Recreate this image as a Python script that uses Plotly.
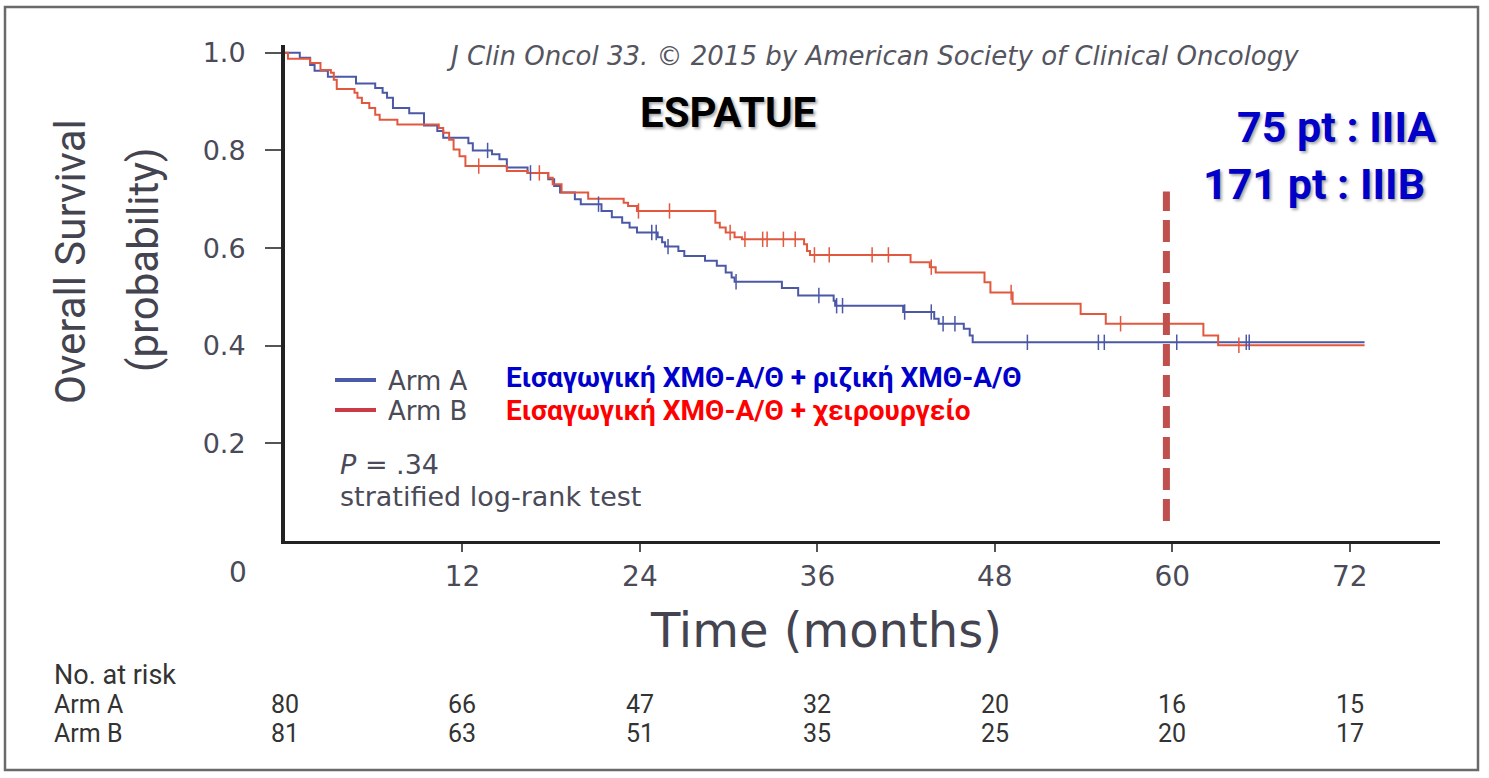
import plotly.graph_objects as go
import numpy as np

# ---------------- data ----------------
# Kaplan-Meier step points (months, survival)
t_A = [0, 1.0, 1.7, 2.0, 2.9, 4.8, 6.1, 6.6, 6.9, 7.3, 8.4, 9.4, 10.3, 10.7, 12.4,
       12.7, 14.0, 14.5, 15.0, 16.4, 17.8, 18.2, 18.6, 19.6, 20.0, 21.4, 22.1, 22.8,
       23.3, 23.8, 25.2, 25.5, 25.7, 26.6, 27.0, 28.4, 29.2, 29.8, 30.2, 30.4, 33.6,
       34.7, 37.1, 37.2, 41.8, 43.9, 44.2, 45.9, 46.3, 46.5, 73.0]
s_A = [1.0, 0.99, 0.975, 0.963, 0.951, 0.937, 0.928, 0.918, 0.908, 0.887, 0.876, 0.851,
       0.84, 0.826, 0.815, 0.80, 0.792, 0.782, 0.765, 0.754, 0.741, 0.727, 0.714, 0.70,
       0.69, 0.676, 0.663, 0.652, 0.642, 0.632, 0.622, 0.612, 0.603, 0.594, 0.584,
       0.574, 0.564, 0.550, 0.540, 0.531, 0.518, 0.503, 0.492, 0.482, 0.469, 0.455,
       0.445, 0.435, 0.421, 0.407, 0.407]

t_B = [0, 0.2, 1.7, 2.4, 3.1, 3.3, 3.5, 4.7, 4.9, 5.2, 5.7, 6.1, 6.4, 7.6, 10.4, 10.7,
       11.1, 11.4, 11.8, 12.2, 15.0, 16.4, 17.8, 18.1, 18.7, 20.5, 22.9, 23.2, 23.8,
       29.1, 29.4, 29.8, 30.4, 30.9, 35.1, 35.3, 35.5, 42.3, 43.6, 44.0, 47.3, 47.7,
       49.2, 53.8, 55.5, 62.1, 63.1, 73.0]
s_B = [1.0, 0.988, 0.979, 0.965, 0.959, 0.945, 0.926, 0.918, 0.908, 0.897, 0.887, 0.873,
       0.863, 0.853, 0.846, 0.836, 0.822, 0.802, 0.788, 0.768, 0.758, 0.754, 0.744,
       0.731, 0.714, 0.701, 0.693, 0.686, 0.676, 0.652, 0.642, 0.632, 0.622, 0.618,
       0.608, 0.594, 0.586, 0.571, 0.561, 0.550, 0.530, 0.509, 0.486, 0.465, 0.445,
       0.421, 0.401, 0.401]

# censoring times
cens_A = [13.7, 16.6, 21.2, 24.8, 25.1, 25.9, 30.5, 36.1, 37.3, 37.7, 41.9, 43.7, 44.5,
          45.3, 50.2, 55.0, 55.4, 60.3, 65.0, 65.2]
cens_B = [13.1, 17.2, 23.9, 26.0, 30.1, 31.1, 32.3, 32.6, 33.7, 34.5, 35.8, 36.8, 39.7,
          40.8, 43.7, 49.1, 56.5, 64.5]

# number at risk
risk_times = [0, 12, 24, 36, 48, 60, 72]
risk_A = [80, 66, 47, 32, 20, 16, 15]
risk_B = [81, 63, 51, 35, 25, 20, 17]

x_ticks = [12, 24, 36, 48, 60, 72]
y_ticks = [0.2, 0.4, 0.6, 0.8, 1.0]
y_ticktext = ["0.2", "0.4", "0.6", "0.8", "1.0"]

cutoff_month = 59.6

# ---------------- layout helpers ----------------
W, H = 1489, 778
L, R, T, B = 285, 49, 45, 237
PW, PH = W - L - R, H - T - B


def px(x):
    return (x - L) / PW


def py(y):
    return (H - B - y) / PH


def step_value(times, surv, t):
    i = np.searchsorted(np.array(times), t, side="right") - 1
    return surv[max(i, 0)]


BLUE = "#4b58a6"
RED = "#e2583e"
GRAY = "#4a4a58"

fig = go.Figure()

fig.add_trace(go.Scatter(x=t_A, y=s_A, mode="lines", line=dict(color=BLUE, width=2, shape="hv"),
                         showlegend=False, hoverinfo="skip"))
fig.add_trace(go.Scatter(x=t_B, y=s_B, mode="lines", line=dict(color=RED, width=2, shape="hv"),
                         showlegend=False, hoverinfo="skip"))
fig.add_trace(go.Scatter(x=cens_A, y=[step_value(t_A, s_A, t) for t in cens_A], mode="markers",
                         marker=dict(symbol="line-ns", size=11, line=dict(color=BLUE, width=1.5)),
                         showlegend=False, hoverinfo="skip"))
fig.add_trace(go.Scatter(x=cens_B, y=[step_value(t_B, s_B, t) for t in cens_B], mode="markers",
                         marker=dict(symbol="line-ns", size=11, line=dict(color=RED, width=1.5)),
                         showlegend=False, hoverinfo="skip"))

shapes = []
# 60-month dashed marker
shapes.append(dict(type="line", xref="x", yref="y", x0=cutoff_month, x1=cutoff_month,
                   y0=0.041, y1=0.716, line=dict(color="#c0504d", width=7, dash="22px,9px")))
# legend line samples
shapes.append(dict(type="line", xref="paper", yref="paper", x0=px(335), x1=px(376),
                   y0=py(380), y1=py(380), line=dict(color="#4a5aa8", width=4)))
shapes.append(dict(type="line", xref="paper", yref="paper", x0=px(335), x1=px(376),
                   y0=py(410), y1=py(410), line=dict(color="#cc3a48", width=4)))
# outer frame
shapes.append(dict(type="rect", xref="paper", yref="paper", x0=px(5), x1=px(1478),
                   y0=py(7), y1=py(770), line=dict(color="#6a6a6a", width=2.5)))

ann = []


def text(x, y, s, size, color=GRAY, family="DejaVu Sans", xanchor="center", weight="normal",
         angle=0, shadow=None):
    f = dict(size=size, color=color, family=family, weight=weight)
    if shadow:
        f["shadow"] = shadow
    ann.append(dict(x=px(x), y=py(y), xref="paper", yref="paper", text=s, showarrow=False,
                    xanchor=xanchor, yanchor="middle", font=f, textangle=angle))


text(872, 56, "<i>J Clin Oncol 33. © 2015 by American Society of Clinical Oncology</i>", 26,
     color="#55555f")
text(728, 112, "ESPATUE", 42, color="#000000", family="Roboto", weight="bold",
     shadow="2px 2px 3px rgba(0,0,0,0.35)")
text(1438, 127, "75 pt : IIIA", 43, color="#0000c8", family="Roboto", weight="bold",
     xanchor="right", shadow="2px 2px 3px rgba(0,0,0,0.35)")
text(1427, 184, "171 pt : IIIB", 43, color="#0000c8", family="Roboto", weight="bold",
     xanchor="right", shadow="2px 2px 3px rgba(0,0,0,0.35)")

text(386, 381, "Arm A", 26, xanchor="left")
text(386, 411, "Arm B", 26, xanchor="left")
text(504, 377, "Εισαγωγική ΧΜΘ-Α/Θ + ριζική ΧΜΘ-Α/Θ", 28, color="#0000cc", family="Roboto",
     weight="bold", xanchor="left")
text(504, 410, "Εισαγωγική ΧΜΘ-Α/Θ + χειρουργείο", 28, color="#ff0000", family="Roboto",
     weight="bold", xanchor="left")
text(338, 464, "<i>P</i> = .34", 27, xanchor="left")
text(338, 496, "stratified log-rank test", 27, xanchor="left")

text(238, 572, "0", 28)
text(826, 630, "Time (months)", 48, color="#444450")

text(70, 262, "Overall Survival", 42, family="Roboto", angle=-90, color="#444450")
text(143, 260, "(probability)", 42, family="Roboto", angle=-90, color="#444450")

RISK_FONT = dict(size=25, color="#333", family="Roboto")
text(52, 675, "No. at risk", 27, family="Roboto", xanchor="left", color="#333")
text(52, 704, "Arm A", 25, family="Roboto", xanchor="left", color="#333")
text(52, 733, "Arm B", 25, family="Roboto", xanchor="left", color="#333")
for t, a, b in zip(risk_times, risk_A, risk_B):
    ann.append(dict(x=t, xref="x", y=py(704), yref="paper", text=str(a), showarrow=False,
                    xanchor="center", yanchor="middle", font=RISK_FONT))
    ann.append(dict(x=t, xref="x", y=py(733), yref="paper", text=str(b), showarrow=False,
                    xanchor="center", yanchor="middle", font=RISK_FONT))

fig.update_layout(
    width=W, height=H,
    margin=dict(l=L, r=R, t=T, b=B, pad=0),
    paper_bgcolor="white", plot_bgcolor="white",
    shapes=shapes, annotations=ann,
    xaxis=dict(range=[0, 78.1], tickvals=x_ticks, showgrid=False, zeroline=False,
               showline=True, linecolor="#222", linewidth=3, ticks="outside", ticklen=8,
               tickwidth=1.5, tickcolor="#555", ticklabelstandoff=0,
               tickfont=dict(family="DejaVu Sans", size=28, color=GRAY)),
    yaxis=dict(range=[0, 1.016], tickvals=y_ticks, ticktext=y_ticktext, showgrid=False,
               zeroline=False, showline=True, linecolor="#222", linewidth=4,
               ticks="outside", ticklen=16, tickwidth=1.5, tickcolor="#555",
               ticklabelstandoff=14,
               tickfont=dict(family="DejaVu Sans", size=27, color=GRAY)),
)

fig.write_html("out.html", config={"displayModeBar": False},
               post_script="document.body.style.margin='0';document.body.style.overflow='hidden';")
